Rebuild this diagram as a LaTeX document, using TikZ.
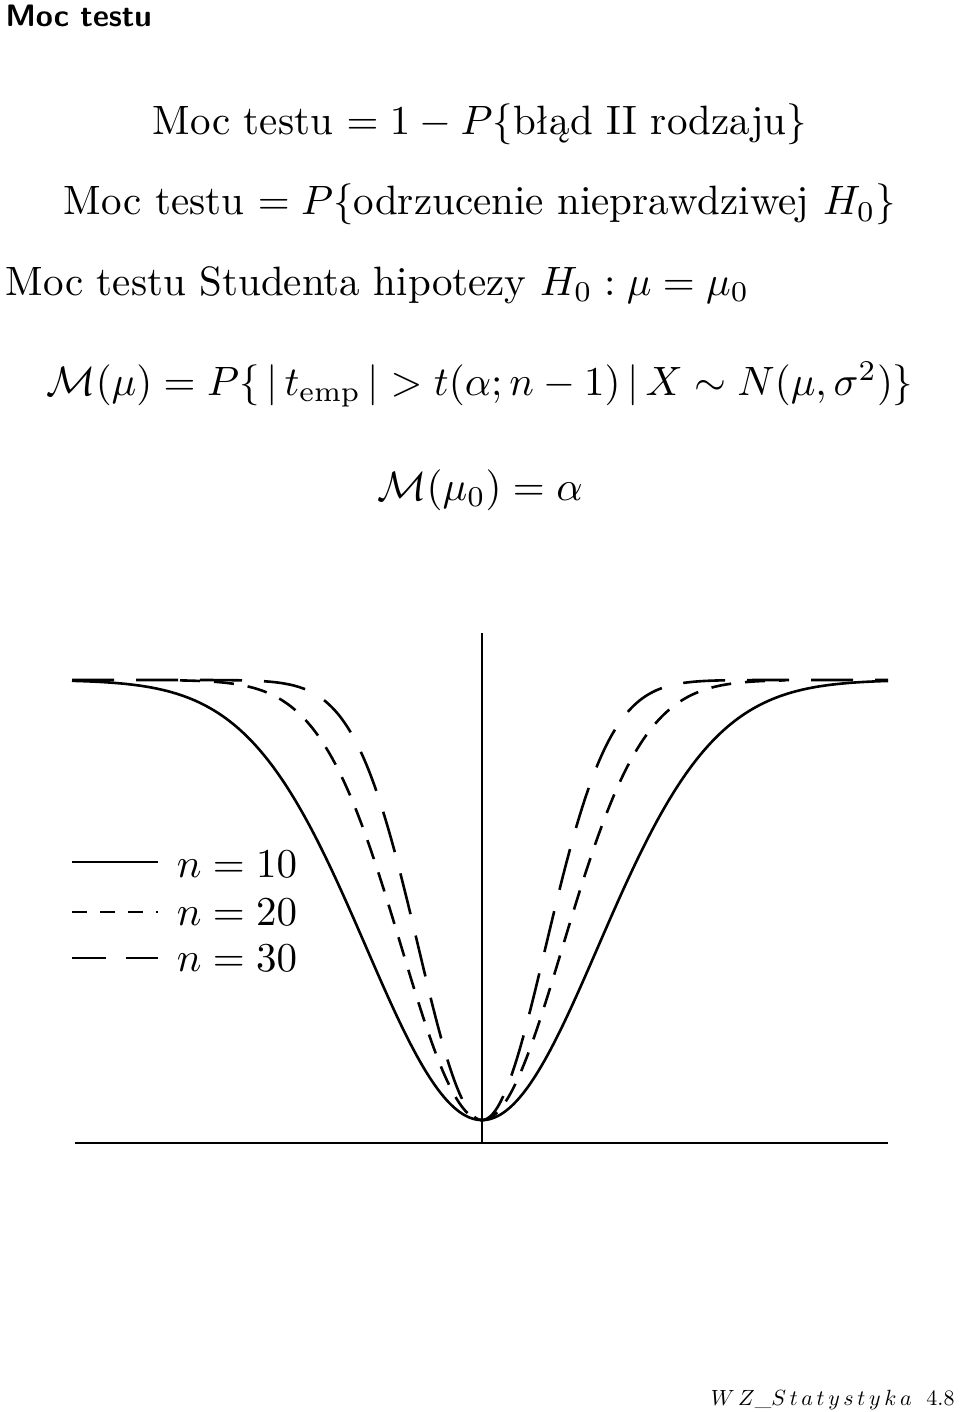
\documentclass[tikz,border=0pt]{standalone}
\usepackage{fontspec}
\begin{document}
\begin{tikzpicture}[x=1pt,y=1pt,
  curve/.style={line width=2.6pt,samples=300},
  txt/.style={scale=4.1,inner sep=0pt,transform shape=false}]
\useasboundingbox (0,0) rectangle (960,-1412);
\node[anchor=north west,inner sep=0pt,scale=3.1,font=\sffamily\bfseries] (title) at (5,-4) {Moc testu};
\node[txt,anchor=base] (l1) at (480,-135) {Moc testu $=1-P\{$błąd II rodzaju$\}$};
\node[txt,anchor=base] (l2) at (480,-215) {Moc testu $=P\{$odrzucenie nieprawdziwej $H_0\}$};
\node[txt,anchor=base west] (l3) at (5,-295) {Moc testu Studenta hipotezy $H_0:\mu=\mu_0$};
\node[txt,anchor=base] (l4) at (480,-395) {$\mathcal{M}(\mu)=P\{\,|\,t_{\mathrm{emp}}\,|>t(\alpha;n-1)\,|\,X\sim N(\mu,\sigma^2)\}$};
\node[txt,anchor=base] (l5) at (480,-500) {$\mathcal{M}(\mu_0)=\alpha$};
% axes
\coordinate (ax1) at (75,-1143); \coordinate (ax2) at (888,-1143);
\coordinate (v1) at (482,-633); \coordinate (v2) at (482,-1143);
\draw[line width=1.6pt] (ax1) -- (ax2);
\draw[line width=1.6pt] (v1) -- (v2);
% curves
\draw[curve,domain=72:888] plot (\x,{-(680+440*exp(-((\x-482)/164)^2))});
\draw[curve,domain=180:785,dash pattern=on 20pt off 14pt] plot (\x,{-(680+440*exp(-((\x-482)/114)^2))});
\draw[curve,domain=72:888,dash pattern=on 42pt off 22pt] plot (\x,{-(680+440*exp(-((\x-482)/90)^2))});
% legend
\coordinate (a1) at (72,-862); \coordinate (b1) at (158,-862);
\coordinate (a2) at (72,-912); \coordinate (b2) at (158,-912);
\coordinate (a3) at (72,-958); \coordinate (b3) at (158,-958);
\draw[line width=2.6pt] (a1) -- (b1);
\draw[line width=2.6pt,dash pattern=on 15pt off 13pt] (a2) -- (b2);
\draw[line width=2.6pt,dash pattern=on 34pt off 20pt] (a3) -- (b3);
\node[txt,anchor=west] (n1) at (176,-864) {$n=10$};
\node[txt,anchor=west] (n2) at (176,-912) {$n=20$};
\node[txt,anchor=west] (n3) at (176,-958) {$n=30$};
\node[anchor=base east,inner sep=0pt,scale=2.2] (foot) at (955,-1405) {$W\,Z\_S\,t\,a\,t\,y\,s\,t\,y\,k\,a$\ \ 4.8};
\end{tikzpicture}
\end{document}
